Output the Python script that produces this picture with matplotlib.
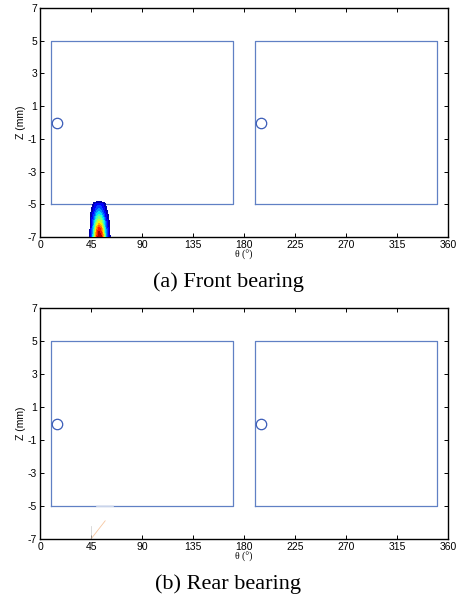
import numpy as np
import matplotlib
matplotlib.use('Agg')
import matplotlib.pyplot as plt

plt.rcParams['axes.unicode_minus'] = False

# bearing pad outlines (theta range, z range) and hole positions
pad_theta = [[10, 170], [190, 350]]
pad_z = [-5, 5]
hole_theta = [15, 195]
hole_z = [0, 0]

# film rupture / cavitation blob on front bearing
blob_theta = [42, 44, 46, 48, 50, 52, 54, 56, 58, 60, 62, 64]
blob_z = [-7.0, -6.5, -6.0, -5.5, -5.0, -4.8]
blob_val = [
    [0, 0.03, 0.25, 0.55, 0.85, 1.00, 0.95, 0.70, 0.35, 0.15, 0.03, 0],
    [0, 0.03, 0.20, 0.45, 0.75, 0.90, 0.80, 0.55, 0.28, 0.12, 0.02, 0],
    [0, 0.01, 0.15, 0.30, 0.50, 0.60, 0.55, 0.38, 0.20, 0.08, 0, 0],
    [0, 0, 0.08, 0.18, 0.30, 0.35, 0.30, 0.20, 0.10, 0.03, 0, 0],
    [0, 0, 0.02, 0.10, 0.15, 0.17, 0.15, 0.10, 0.03, 0, 0, 0],
    [0, 0, 0, 0, 0, 0, 0, 0, 0, 0, 0, 0],
]

# faint trace on the rear bearing
trace_theta = [45, 57.5]
trace_z = [-7, -5.9]

xticks = [0, 45, 90, 135, 180, 225, 270, 315, 360]
yticks = [-7, -5, -3, -1, 1, 3, 5, 7]
captions = ['(a) Front bearing', '(b) Rear bearing']

PAD_COLOR = '#6080c4'
HOLE_COLOR = '#3a5cb8'

fig = plt.figure(figsize=(4.57, 6.03), dpi=100)
W, H = 457, 603
axes_px = [(40, 8, 448, 237), (40, 308, 448, 539)]
caption_y = [282, 584]

for k, (x0, y0, x1, y1) in enumerate(axes_px):
    ax = fig.add_axes([x0 / W, 1 - y1 / H, (x1 - x0) / W, (y1 - y0) / H])
    for th in pad_theta:
        ax.plot([th[0], th[1], th[1], th[0], th[0]],
                [pad_z[0], pad_z[0], pad_z[1], pad_z[1], pad_z[0]],
                color=PAD_COLOR, lw=0.9)
    ax.plot(hole_theta, hole_z, 'o', mfc='none', mec=HOLE_COLOR, ms=7.5, mew=0.9)
    if k == 0:
        ax.contourf(blob_theta, blob_z, np.array(blob_val),
                    levels=np.linspace(0.04, 1.0, 14), cmap='jet', zorder=3)
    else:
        ax.plot(trace_theta, trace_z, color='#f0a060', lw=0.6, alpha=0.6)
        ax.plot([45, 45], [-7, -6.2], color='#cccccc', lw=0.5)
        ax.plot([50, 64], [-5, -5], color='#dde4f2', lw=1.2)
    ax.set_xlim(0, 360)
    ax.set_ylim(-7, 7)
    ax.set_xticks(xticks)
    ax.set_yticks(yticks)
    ax.tick_params(direction='in', length=3, width=0.7, labelsize=7.5,
                   top=True, right=True, pad=2)
    for lab in ax.get_xticklabels() + ax.get_yticklabels():
        lab.set_family('Liberation Sans')
    for s in ax.spines.values():
        s.set_linewidth(1.0)
    ax.set_ylabel('Z (mm)', fontsize=7.5, family='Liberation Sans', labelpad=1)
    ax.set_xlabel('θ (°)', fontsize=7, family='Liberation Serif', labelpad=0)
    fig.text(228 / W, 1 - caption_y[k] / H, captions[k], ha='center', va='center',
             fontsize=16, family='Liberation Serif')

plt.savefig('out.png', dpi=100)
